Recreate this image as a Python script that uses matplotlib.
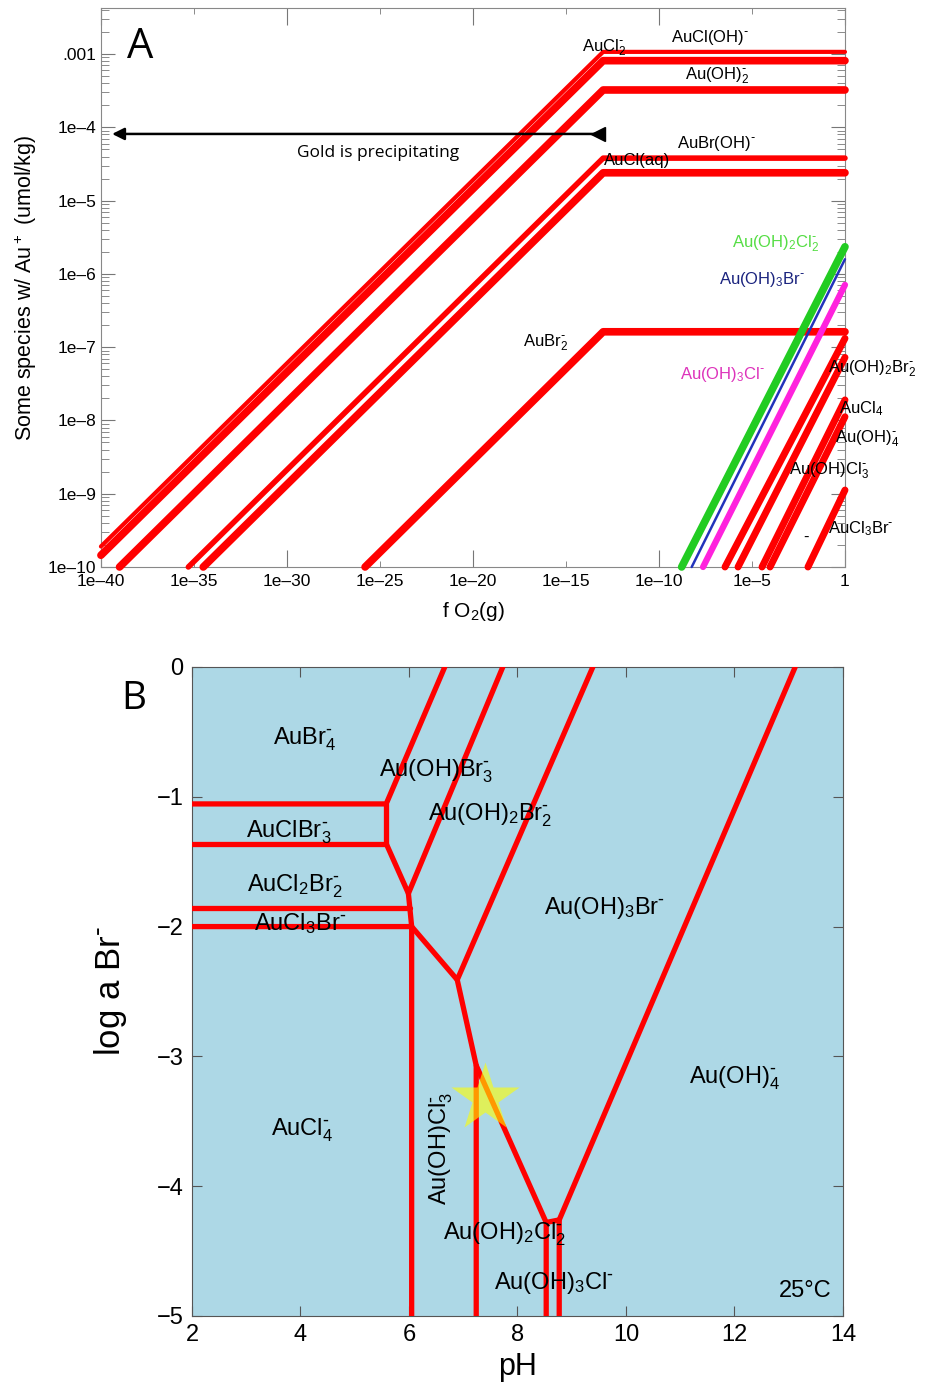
import numpy as np
import matplotlib
matplotlib.use('Agg')
import matplotlib.pyplot as plt
from matplotlib.ticker import FixedLocator, NullFormatter, LogLocator

plt.rcParams['font.family'] = ['Liberation Sans', 'DejaVu Sans']
plt.rcParams['mathtext.default'] = 'regular'

Q = r'^{\text{-}}'  # small charge sign, as in the original

# ---------------- panel A data (log10 values) ----------------
# Au(I) species: start point on the left, break at fO2 = 1e-13, then flat to fO2 = 1
au1_start_fo2 = [-40.0, -40.0, -39.0, -35.3, -34.5, -25.8]
au1_start_conc = [-9.72, -9.84, -10.0, -10.0, -10.0, -10.0]
au1_break_fo2 = -13.0
au1_plateau = [-2.97, -3.09, -3.49, -4.42, -4.62, -6.79]
au1_lw = [3.0, 5.5, 5.5, 4.0, 5.5, 5.5]

# Au(III) species: start on the bottom edge (1e-10), end at fO2 = 1
au3_start_fo2 = [-8.78, -8.24, -7.63, -6.45, -5.75, -4.46, -4.03, -1.99]
au3_end_conc = [-5.63, -5.80, -6.15, -6.88, -7.14, -7.72, -7.95, -8.95]
au3_colors = ['#22cc22', '#2233bb', '#ff22dd', 'red', 'red', 'red', 'red', 'red']
au3_lw = [5.5, 1.8, 4.5, 5.0, 5.0, 5.0, 5.0, 5.0]

# labels: text, log fO2, log conc, colour
a_labels = [
    (r'AuCl$_2' + Q + '$', -12.96, -2.92, 'k'),
    (r'AuCl(OH)$' + Q + '$', -7.26, -2.78, 'k'),
    (r'Au(OH)$_2' + Q + '$', -6.88, -3.30, 'k'),
    (r'AuBr(OH)$' + Q + '$', -6.94, -4.22, 'k'),
    ('AuCl(aq)', -11.18, -4.45, 'k'),
    (r'AuBr$_2' + Q + '$', -16.08, -6.94, 'k'),
    (r'Au(OH)$_2$Cl$_2' + Q + '$', -3.71, -5.59, '#55dd44'),
    (r'Au(OH)$_3$Br$' + Q + '$', -4.46, -6.07, '#1a237e'),
    (r'Au(OH)$_3$Cl$' + Q + '$', -6.61, -7.37, '#dd33bb'),
    (r'Au(OH)$_2$Br$_2' + Q + '$', 1.45, -7.30, 'k'),
    (r'AuCl$_4$', 0.86, -7.84, 'k'),
    (r'Au(OH)$_4' + Q + '$', 1.18, -8.25, 'k'),
    (r'Au(OH)Cl$_3' + Q + '$', -0.86, -8.69, 'k'),
    (r'AuCl$_3$Br$' + Q + '$', 0.86, -9.47, 'k'),
    ('-', -2.1, -9.60, 'k'),
]

xtick_major = [-40, -30, -20, -10, 0]
xtick_minor = [-35, -25, -15, -5]
ytick_vals = [-10, -9, -8, -7, -6, -5, -4, -3]
ytick_text = ['1e\u201310', '1e\u20139', '1e\u20138', '1e\u20137', '1e\u20136', '1e\u20135', '1e\u20134', '.001']

# ---------------- panel B data (pH, log a Br-) ----------------
b_lines = [
    ([2.0, 5.58, 6.66], [-1.055, -1.055, 0.0]),
    ([2.0, 5.58, 5.58], [-1.36, -1.36, -1.055]),
    ([5.58, 5.99, 7.73], [-1.36, -1.745, 0.0]),
    ([2.0, 6.02], [-1.86, -1.86]),
    ([5.99, 6.05, 6.05], [-1.745, -2.0, -5.0]),
    ([2.0, 6.05, 6.89, 9.39], [-2.0, -2.0, -2.41, 0.0]),
    ([6.89, 7.24, 7.24], [-2.41, -3.07, -5.0]),
    ([7.24, 8.53, 8.53], [-3.07, -4.28, -5.0]),
    ([8.53, 8.77], [-4.28, -4.26]),
    ([8.77, 8.77, 13.12], [-5.0, -4.26, 0.0]),
]

b_labels = [
    (r'AuBr$_4' + Q + '$', 4.08, -0.56, 0),
    (r'Au(OH)Br$_3' + Q + '$', 6.50, -0.80, 0),
    (r'AuClBr$_3' + Q + '$', 3.79, -1.27, 0),
    (r'Au(OH)$_2$Br$_2' + Q + '$', 7.49, -1.14, 0),
    (r'AuCl$_2$Br$_2' + Q + '$', 3.90, -1.69, 0),
    (r'AuCl$_3$Br$' + Q + '$', 3.99, -1.98, 0),
    (r'Au(OH)$_3$Br$' + Q + '$', 9.61, -1.86, 0),
    (r'Au(OH)$_4' + Q + '$', 12.0, -3.17, 0),
    (r'AuCl$_4' + Q + '$', 4.03, -3.57, 0),
    (r'Au(OH)Cl$_3' + Q + '$', 6.59, -3.71, 90),
    (r'Au(OH)$_2$Cl$_2' + Q + '$', 7.77, -4.37, 0),
    (r'Au(OH)$_3$Cl$' + Q + '$', 8.67, -4.75, 0),
]
star_ph, star_br = 7.40, -3.32

fig = plt.figure(figsize=(9.26, 13.89), dpi=100)

# ================= panel A =================
ax = fig.add_axes([0.109, 0.5918, 0.8035, 0.4024])
ax.set_xscale('log')
ax.set_yscale('log')

for s, c0, p, lw in zip(au1_start_fo2, au1_start_conc, au1_plateau, au1_lw):
    xs = 10.0 ** np.array([s, au1_break_fo2, 0.0])
    ys = 10.0 ** np.array([c0, p, p])
    ax.plot(xs, ys, color='red', lw=lw, solid_capstyle='round', clip_on=False, zorder=3)

for s, e, col, lw in zip(au3_start_fo2, au3_end_conc, au3_colors, au3_lw):
    ax.plot(10.0 ** np.array([s, 0.0]), 10.0 ** np.array([-10.0, e]), color=col, lw=lw,
            solid_capstyle='round', clip_on=False, zorder=3)

for txt, lx, ly, col in a_labels:
    ax.text(10.0 ** lx, 10.0 ** ly, txt, color=col, fontsize=12, ha='center', va='center', zorder=4)

# arrow: gold is precipitating
ax.annotate('', xy=(10.0 ** -39.4, 10.0 ** -4.09), xytext=(10.0 ** -13.2, 10.0 ** -4.09),
            arrowprops=dict(arrowstyle='-|>', color='k', lw=1.8, mutation_scale=18, shrinkA=0, shrinkB=0))
ax.plot([10.0 ** -13.3], [10.0 ** -4.09], marker='<', ms=10, color='k')
ax.text(10.0 ** -25.1, 10.0 ** -4.35, 'Gold is precipitating', fontsize=12.5,
        family=['Open Sans', 'DejaVu Sans'], ha='center', va='center')
ax.text(0.035, 0.93, 'A', transform=ax.transAxes, fontsize=30, family=['Open Sans', 'DejaVu Sans'],
        ha='left', va='center')

ax.set_xlim(1e-40, 1)
ax.set_ylim(1e-10, 10.0 ** -2.372)
ax.xaxis.set_major_locator(FixedLocator([10.0 ** v for v in xtick_major]))
ax.xaxis.set_minor_locator(FixedLocator([10.0 ** v for v in xtick_minor]))
ax.set_xticklabels(['1e\u201340', '1e\u201330', '1e\u201320', '1e\u201310', '1'])
ax.set_xticklabels(['1e\u201335', '1e\u201325', '1e\u201315', '1e\u20135'], minor=True)
ax.yaxis.set_major_locator(FixedLocator([10.0 ** v for v in ytick_vals]))
ax.set_yticklabels(ytick_text)
ax.yaxis.set_minor_locator(LogLocator(base=10, subs=np.arange(2, 10), numticks=50))
ax.yaxis.set_minor_formatter(NullFormatter())
ax.tick_params(axis='x', which='major', direction='in', top=True, length=12, labelsize=12.5,
               color='#777777', pad=5)
ax.tick_params(axis='x', which='minor', direction='in', top=True, length=4, labelsize=12.5,
               color='#777777', pad=5)
ax.tick_params(axis='y', which='major', direction='in', right=True, length=10, labelsize=12.5,
               color='#777777')
ax.tick_params(axis='y', which='minor', direction='in', right=True, length=6, color='#777777')
for sp in ax.spines.values():
    sp.set_color('#888888')
ax.set_xlabel(r'f O$_2$(g)', fontsize=15, labelpad=8)
ax.set_ylabel(r'Some species w/ Au$^+$ (umol/kg)', fontsize=15.5, labelpad=6)

# ================= panel B =================
bx = fig.add_axes([0.2073, 0.0526, 0.703, 0.4672])
bx.set_facecolor('#add8e6')
for xs, ys in b_lines:
    bx.plot(xs, ys, color='red', lw=3.8, solid_capstyle='round', zorder=3)
bx.plot([star_ph], [star_br], marker='*', ms=52, color='yellow', alpha=0.6, mec='none', zorder=4)
for txt, px, py, rot in b_labels:
    bx.text(px, py, txt, fontsize=17, ha='center', va='center', rotation=rot, zorder=5)
bx.text(13.3, -4.81, '25\u00b0C', fontsize=17, ha='center', va='center')
bx.text(-0.09, 0.95, 'B', transform=bx.transAxes, fontsize=28, family=['Open Sans', 'DejaVu Sans'],
        ha='center', va='center')

bx.set_xlim(2, 14)
bx.set_ylim(-5, 0)
bx.set_xticks([2, 4, 6, 8, 10, 12, 14])
bx.set_yticks([-5, -4, -3, -2, -1, 0])
bx.tick_params(direction='in', top=True, right=True, length=7, labelsize=17, color='#555555', pad=6)
for sp in bx.spines.values():
    sp.set_color('#555555')
bx.set_xlabel('pH', fontsize=22, labelpad=4)
bx.set_ylabel(r'log a Br$' + Q + '$', fontsize=25, labelpad=20)

fig.savefig('out.png', dpi=100)
